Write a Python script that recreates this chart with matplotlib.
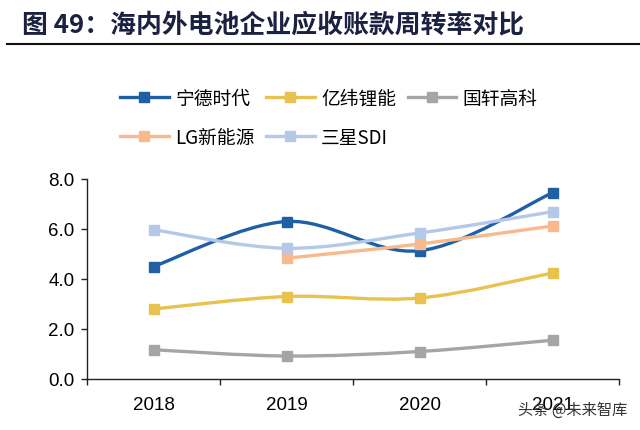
import numpy as np
import matplotlib.pyplot as plt
from matplotlib.path import Path
from matplotlib.patches import PathPatch
from matplotlib.lines import Line2D

plt.rcParams['font.family'] = ['Liberation Sans', 'Noto Sans CJK SC', 'DejaVu Sans']
cjk = ['Noto Sans CJK SC', 'DejaVu Sans']

# data
years = ["2018", "2019", "2020", "2021"]
catl = [4.5, 6.3, 5.13, 7.45]
eve = [2.8, 3.3, 3.24, 4.24]
gotion = [1.17, 0.92, 1.1, 1.55]
lg = [None, 4.83, 5.4, 6.12]
sdi = [5.97, 5.23, 5.84, 6.69]

names = ["宁德时代", "亿纬锂能", "国轩高科", "LG新能源", "三星SDI"]
colors = ["#1F5FA5", "#E8C24E", "#A5A5A5", "#F8B98C", "#B4C8E8"]
series = [catl, eve, gotion, lg, sdi]


def smooth_path(xs, ys):
    # excel-style smoothed line: cubic bezier through the points
    pts = np.column_stack([xs, ys]).astype(float)
    n = len(pts)
    verts = [pts[0]]
    codes = [Path.MOVETO]
    for i in range(n - 1):
        p0 = pts[i - 1] if i > 0 else pts[i]
        p1 = pts[i]
        p2 = pts[i + 1]
        p3 = pts[i + 2] if i + 2 < n else pts[i + 1]
        c1 = p1 + (p2 - p0) / 6.0
        c2 = p2 - (p3 - p1) / 6.0
        verts += [c1, c2, p2]
        codes += [Path.CURVE4] * 3
    return Path(verts, codes)


fig = plt.figure(figsize=(6.4, 4.31), dpi=100)
ax = fig.add_axes([87 / 640, 51 / 431, 532 / 640, 200 / 431])

handles = []
for name, col, vals in zip(names, colors, series):
    xs = [i for i, v in enumerate(vals) if v is not None]
    ys = [v for v in vals if v is not None]
    ax.add_patch(PathPatch(smooth_path(xs, ys), facecolor='none', edgecolor=col,
                           lw=2.4, zorder=2, capstyle='round'))
    ax.plot(xs, ys, ls='none', marker='s', ms=7.5, color=col, zorder=3)
    handles.append(Line2D([], [], color=col, lw=2.4, marker='s', ms=7.5))

ax.set_xlim(-0.5, 3.5)
ax.set_ylim(0, 8)
ax.set_yticks(np.arange(0, 8.1, 2))
ax.set_yticklabels([f"{v:.1f}" for v in np.arange(0, 8.1, 2)])
ax.set_xticks(np.arange(-0.5, 3.6, 1))
ax.set_xticklabels([])
ax.set_xticks(range(len(years)), minor=True)
ax.set_xticklabels(years, minor=True)
ax.tick_params(axis='x', which='major', length=4, width=1, direction='out', color='#222222')
ax.tick_params(axis='x', which='minor', length=0, pad=12, labelsize=13.5)
ax.tick_params(axis='y', length=4, width=1, direction='out', labelsize=13.5, pad=5, color='#222222')
for s in ['top', 'right']:
    ax.spines[s].set_visible(False)
for s in ['left', 'bottom']:
    ax.spines[s].set_color('#222222')
    ax.spines[s].set_linewidth(1)

order = [0, 3, 1, 4, 2]
leg = fig.legend([handles[i] for i in order], [names[i] for i in order],
                 ncol=3, loc='upper left', bbox_to_anchor=(120 / 640, 1 - 89 / 431),
                 frameon=False, borderpad=0, borderaxespad=0, handlelength=2.6,
                 handletextpad=0.35, columnspacing=0.6, labelspacing=0.95,
                 prop={'family': cjk, 'size': 13.5})

fig.text(22 / 640, 1 - 25 / 431, "图 49：海内外电池企业应收账款周转率对比",
         family=cjk, fontsize=18.6, fontweight='bold', va='center', ha='left', color='#1B2140')
fig.add_artist(Line2D([7 / 640, 1], [1 - 45 / 431, 1 - 45 / 431], color='#111111', lw=1.5))

fig.text(627 / 640, 1 - 410 / 431, "头条 @未来智库", family=cjk, fontsize=11,
         ha='right', va='center', color='#333333')

fig.savefig("out.png", dpi=100)
